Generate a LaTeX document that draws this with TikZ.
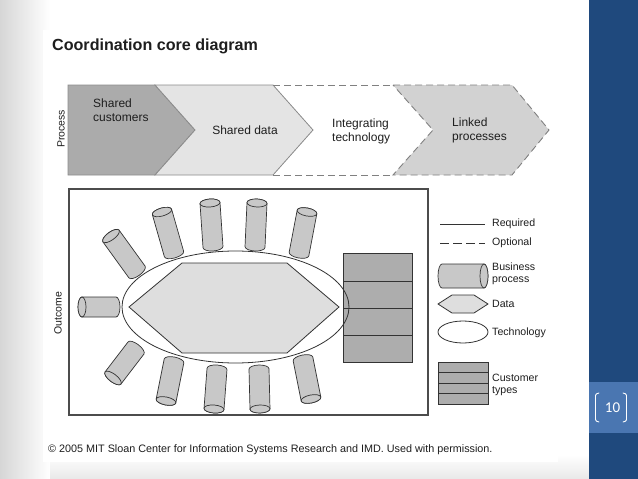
\documentclass[tikz,border=0pt]{standalone}
\usepackage{fontspec}
\setmainfont{Liberation Sans}
\newfontfamily\pagefont{Carlito}
\usetikzlibrary{calc}
\definecolor{slideblue}{HTML}{1F497D}
\definecolor{numblue}{HTML}{4A76B1}
\definecolor{chevA}{HTML}{ABABAB}
\definecolor{chevB}{HTML}{E4E4E4}
\definecolor{chevD}{HTML}{D2D2D2}
\definecolor{cylfill}{HTML}{C8C8C8}
\definecolor{hexfill}{HTML}{DEDEDE}
\definecolor{custfill}{HTML}{ADADAD}
\definecolor{inkline}{HTML}{333333}
\definecolor{txt}{HTML}{1E1E1E}
\tikzset{
  chevsolid/.style={draw=black!45, line width=0.8pt},
  chevdash/.style={draw=black!50, line width=0.9pt, dash pattern=on 7pt off 4pt},
  lbl/.style={font=\fontsize{12}{14}\selectfont, align=left, inner sep=0pt, text=txt},
  leg/.style={font=\fontsize{10.6}{12.5}\selectfont, align=left, inner sep=0pt, anchor=west, text=txt},
  sidelbl/.style={font=\fontsize{10.5}{12}\selectfont, inner sep=0pt, rotate=90, text=txt},
  cylbody/.style={fill=cylfill, draw=inkline, line width=0.7pt},
  hexbody/.style={fill=hexfill, draw=inkline, line width=0.8pt},
  custbody/.style={fill=custfill, draw=inkline, line width=0.8pt},
  techbody/.style={fill=white, draw=inkline, line width=0.8pt},
  bracket/.style={draw=white, line width=0.9pt, line cap=round},
}
\newcommand\bizcyl[5]{%
  \pgfmathsetmacro\cylang{atan2(#2-#4,#3-#1)}%
  \pgfmathsetmacro\cyllen{veclen(#3-#1,#4-#2)}%
  \begin{scope}[shift={(#1,#2)},rotate=\cylang]
    \filldraw[cylbody] (0,-#5) -- (\cyllen,-#5)
      arc[start angle=-90,end angle=90,x radius=4,y radius=#5] -- (0,#5)
      arc[start angle=90,end angle=270,x radius=4,y radius=#5] -- cycle;
    \draw[cylbody] (\cyllen,0) ellipse[x radius=4,y radius=#5];
  \end{scope}}
\begin{document}
\begin{tikzpicture}[x=1pt,y=-1pt]
\useasboundingbox (0,0) rectangle (638,479);
% slide background
\fill[white] (0,0) rectangle (638,479);
\shade[left color=black!16, right color=white] (0,0) rectangle (50,479);
\shade[top color=white, bottom color=black!9] (50,455) rectangle (589,479);
\fill[slideblue] (589,0) rectangle (638,479);
\fill[numblue] (589,382) rectangle (638,433);
\draw[bracket] (599,393) .. controls (595.5,394) .. (595.5,398) -- (595.5,417) .. controls (595.5,421) .. (599,422);
\draw[bracket] (623,393) .. controls (626.5,394) .. (626.5,398) -- (626.5,417) .. controls (626.5,421) .. (623,422);
\node[text=white, font=\pagefont\fontsize{15}{17}\selectfont, inner sep=0pt] (pagenum) at (612.5,407.5) {10};
% panel
\fill[white] (43,30) rectangle (558,462);
\node[anchor=base west, inner sep=0pt, font=\bfseries\fontsize{16.1}{18}\selectfont, text=txt] (title) at (52,50) {Coordination core diagram};
% process row
\node[sidelbl] (process) at (61,129) {Process};
\filldraw[fill=chevA, chevsolid] (68,85) -- (155,85) -- (195,130) -- (155,175) -- (68,175) -- cycle;
\filldraw[fill=chevB, chevsolid] (155,85) -- (273,85) -- (313,130) -- (273,175) -- (155,175) -- (195,130) -- cycle;
\draw[chevdash] (273,85) -- (393,85);
\draw[chevdash] (273,175) -- (393,175);
\filldraw[fill=chevD, chevdash] (393,85) -- (512,85) -- (549,130) -- (512,175) -- (393,175) -- (433,130) -- cycle;
\node[lbl, anchor=west] (c1) at (93,110) {Shared\\customers};
\node[lbl] (c2) at (245,130) {Shared data};
\node[lbl, anchor=west] (c3) at (332,131) {Integrating\\technology};
\node[lbl, anchor=west] (c4) at (452,130) {Linked\\processes};
% outcome
\node[sidelbl] (outcome) at (58,313) {Outcome};
\draw[draw=black!70, line width=1.2pt] (69,189) rectangle (428,415);
\draw[techbody] (235.5,307) ellipse[x radius=113.5, y radius=56];
\bizcyl{116}{307}{82}{307}{10}
\bizcyl{137}{272}{111}{236}{10}
\bizcyl{174}{254}{162}{212}{10}
\bizcyl{213}{247}{210}{203}{10}
\bizcyl{255}{247}{257}{203}{10}
\bizcyl{299}{254}{307}{212}{10}
\bizcyl{136}{348}{113}{378}{10}
\bizcyl{174}{361}{166}{401}{10}
\bizcyl{217}{369}{214}{409}{10}
\bizcyl{259}{369}{260}{409}{10}
\bizcyl{303}{359}{311}{399}{10}
\filldraw[hexbody] (129,307) -- (182,263) -- (287,263) -- (339,307) -- (287,353) -- (182,353) -- cycle;
\filldraw[custbody] (343,253) rectangle (412,362);
\draw[custbody] (343,281) -- (412,281) (343,308) -- (412,308) (343,335) -- (412,335);
\begin{scope}
  \clip (343,253) rectangle (412,362);
  \draw[draw=inkline, line width=0.8pt] (235.5,307) ellipse[x radius=113.5, y radius=56];
\end{scope}
% legend
\draw[draw=inkline, line width=0.8pt] (440,224) -- (485,224);
\node[leg] (lreq) at (492,224) {Required};
\draw[draw=inkline, line width=0.8pt, dash pattern=on 9pt off 4pt] (440,243) -- (485,243);
\node[leg] (lopt) at (492,243) {Optional};
\bizcyl{442}{276}{484}{276}{12}
\node[leg] (lbiz) at (492,274) {Business\\process};
\filldraw[hexbody] (438,304) -- (452,295) -- (474,295) -- (488,304) -- (474,313) -- (452,313) -- cycle;
\node[leg] (ldata) at (492,304) {Data};
\draw[techbody] (463,332) ellipse[x radius=25, y radius=11];
\node[leg] (ltech) at (492,333) {Technology};
\filldraw[custbody] (438,362) rectangle (488,404);
\draw[custbody] (438,372.5) -- (488,372.5) (438,383) -- (488,383) (438,393.5) -- (488,393.5);
\node[leg] (lcust) at (492,385) {Customer\\types};
% footer
\node[anchor=west, inner sep=0pt, font=\fontsize{10.8}{12}\selectfont, text=txt] (credit) at (48,450) {© 2005 MIT Sloan Center for Information Systems Research and IMD. Used with permission.};
\end{tikzpicture}
\end{document}
